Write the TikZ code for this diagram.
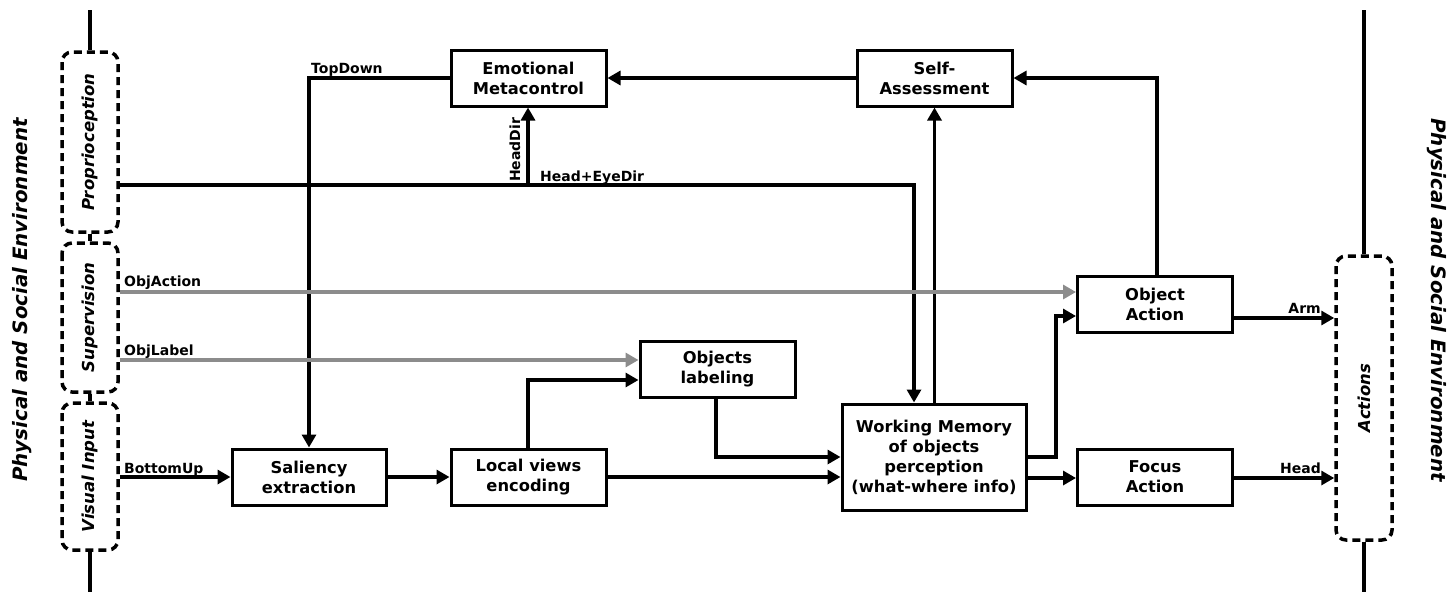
\documentclass[tikz,border=0pt]{standalone}
\usepackage{fontspec}
\setmainfont{DejaVu Sans}
\usetikzlibrary{arrows.meta}
\definecolor{sup}{RGB}{140,140,140}
\begin{document}
\begin{tikzpicture}[x=1pt,y=-1pt,
  box/.style={draw, line width=3pt, minimum width=155pt, minimum height=56pt,
    align=center, inner sep=0pt, font=\bfseries\fontsize{16.3}{20}\selectfont},
  side/.style={draw, dash pattern=on 8pt off 5pt, line width=3.5pt, rounded corners=10pt,
    minimum height=56pt, inner sep=0pt, font=\bfseries\itshape\fontsize{16.5}{20}\selectfont},
  env/.style={font=\bfseries\itshape\fontsize{19.8}{22}\selectfont, inner sep=0pt},
  lbl/.style={font=\bfseries\fontsize{14}{16}\selectfont, inner sep=0pt},
  wire/.style={line width=3.2pt, line join=miter},
  arr/.style={wire, -{Triangle[length=13pt,width=14pt]}},
  garr/.style={arr, draw=sup, color=sup}
]
\useasboundingbox (0,0) rectangle (1455,592);

% environment
\node[env, rotate=90] (envl) at (22,300) {Physical and Social Environment};
\node[env, rotate=-90] (envr) at (1437,300) {Physical and Social Environment};

% side boxes (rotated: east = top, west = bottom, south = right, north = left)
\node[side, rotate=90, minimum width=180pt] (prop) at (90,142) {Proprioception};
\node[side, rotate=90, minimum width=149pt] (supv) at (90,317.5) {Supervision};
\node[side, rotate=90, minimum width=147pt] (vis) at (90,476.5) {Visual Input};
\node[side, rotate=90, minimum width=284pt] (act) at (1364,398) {Actions};

\coordinate (ltop) at (90,10);
\coordinate (lbot) at (90,592);
\coordinate (rtop) at (1364,10);
\coordinate (rbot) at (1364,592);
\draw[wire] (ltop) -- (prop.east);
\draw[wire] (prop.west) -- (supv.east);
\draw[wire] (supv.west) -- (vis.east);
\draw[wire] (vis.west) -- (lbot);
\draw[wire] (rtop) -- (act.east);
\draw[wire] (act.west) -- (rbot);

% blocks
\node[box] (emo) at (528.5,78) {Emotional\\Metacontrol};
\node[box] (self) at (934.5,78) {Self-\\Assessment};
\node[box] (obja) at (1155,304) {Object\\Action};
\node[box] (lab) at (717.5,369) {Objects\\labeling};
\node[box, minimum width=184pt, minimum height=106pt] (wm) at (934,457) {Working Memory\\of objects\\perception\\(what-where info)};
\node[box] (foc) at (1155,477) {Focus\\Action};
\node[box, minimum width=154pt] (sal) at (309,477) {Saliency\\extraction};
\node[box] (loc) at (528.5,477) {Local views\\encoding};

% coordinates for routing
\coordinate (td) at (309,78);
\coordinate (he) at (914,185);
\coordinate (hd) at (528,185);
\coordinate (oa) at (1157,78);
\coordinate (ga) at (0,292);
\coordinate (gl) at (0,360);
\coordinate (bu) at (0,477);
\coordinate (lv) at (528,380);
\coordinate (ol) at (716,457);
\coordinate (wo) at (1056,316);
\coordinate (wf) at (0,478);
\coordinate (arm) at (0,318);

% connectors
\draw[arr] (emo.west) -- (td) -- (sal.north -| td);
\draw[arr] (prop.south |- he) -- (he) -- (wm.north -| he);
\draw[arr] (hd) -- (emo.south -| hd);
\draw[arr] (self.west) -- (emo.east);
\draw[arr] (wm.north -| self) -- (self.south);
\draw[arr] (obja.north -| oa) -- (oa) -- (self.east);
\draw[garr] (supv.south |- ga) -- (obja.west |- ga);
\draw[garr] (supv.south |- gl) -- (lab.west |- gl);
\draw[arr] (vis.south |- bu) -- (sal.west);
\draw[arr] (sal.east) -- (loc.west);
\draw[arr] (loc.north -| lv) -- (lv) -- (lab.west |- lv);
\draw[arr] (lab.south -| ol) -- (ol) -- (wm.west |- ol);
\draw[arr] (loc.east) -- (wm.west |- loc.east);
\draw[arr] (wm.east |- ol) -- (ol -| wo) -- (wo) -- (obja.west |- wo);
\draw[arr] (wm.east |- wf) -- (foc.west |- wf);
\draw[arr] (obja.east |- arm) -- (act.north |- arm);
\draw[arr] (foc.east |- wf) -- (act.north |- wf);

% labels
\node[lbl, anchor=base west] (ltd) at (311,73) {TopDown};
\node[lbl, anchor=base west] (lhe) at (540,181) {Head+EyeDir};
\node[lbl, anchor=base west, rotate=90] (lhd) at (520,182) {HeadDir};
\node[lbl, anchor=base west] (loa) at (124,286) {ObjAction};
\node[lbl, anchor=base west] (lol) at (124,355) {ObjLabel};
\node[lbl, anchor=base west] (lbu) at (124,473) {BottomUp};
\node[lbl, anchor=base east] (larm) at (1321,313) {Arm};
\node[lbl, anchor=base east] (lhead) at (1321,473) {Head};
\end{tikzpicture}
\end{document}
